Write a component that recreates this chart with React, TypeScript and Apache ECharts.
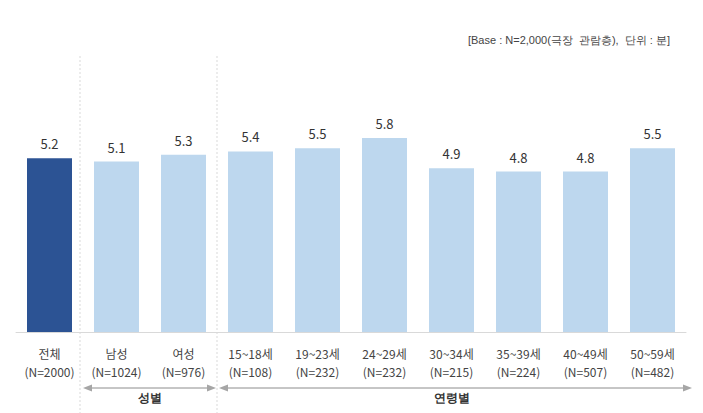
import React, { useEffect, useRef } from "react";
import * as echarts from "echarts";

const categories = ["전체", "남성", "여성", "15~18세", "19~23세", "24~29세", "30~34세", "35~39세", "40~49세", "50~59세"];
const sampleSizes = ["N=2000", "N=1024", "N=976", "N=108", "N=232", "N=232", "N=215", "N=224", "N=507", "N=482"];
const values = [5.2, 5.1, 5.3, 5.4, 5.5, 5.8, 4.9, 4.8, 4.8, 5.5];
const groupLabels = ["성별", "연령별"];
const groupRanges = [[1, 2], [3, 9]];
const noteText = "[Base : N=2,000(극장  관람층),  단위 : 분]";

const FONT = "'Noto Sans CJK KR', 'Noto Sans', sans-serif";

export default function App() {
  const ref = useRef<HTMLDivElement>(null);
  useEffect(() => {
    if (!ref.current) return;
    const chart = echarts.init(ref.current, null, { renderer: "svg" });
    chart.setOption({
      animation: false,
      backgroundColor: "#ffffff",
      grid: { left: 16, right: 17, top: 98, bottom: 81 },
      xAxis: {
        type: "category",
        data: categories,
        axisLine: { show: true, lineStyle: { color: "#d9d9d9", width: 1 } },
        axisTick: { show: false },
        axisLabel: {
          interval: 0,
          margin: 12,
          lineHeight: 18,
          fontSize: 12,
          color: "#444",
          fontFamily: FONT,
          formatter: (v: string, i: number) => `${v}\n(${sampleSizes[i]})`,
        },
      },
      yAxis: { type: "value", min: 0, max: 7, show: false, splitLine: { show: false } },
      series: [
        {
          type: "bar",
          barWidth: 45,
          data: values.map((v, i) => ({
            value: v,
            itemStyle: { color: i === 0 ? "#2c5394" : "#bdd7ee" },
          })),
          label: {
            show: true,
            position: "top",
            distance: 8,
            fontSize: 13,
            color: "#333",
            fontFamily: FONT,
            formatter: (p: any) => p.value.toFixed(1),
          },
        },
      ],
    });

    const px = (i: number) => chart.convertToPixel({ xAxisIndex: 0 }, i) as number;
    const step = px(1) - px(0);
    const sep1 = px(0) + step / 2 - 3;
    const sep2 = px(2) + step / 2;
    const arrowY = 388;
    const arrowColor = "#8c8c8c";
    const headColor = "#a6a6a6";
    const arrow = (x1: number, x2: number) => [
      { type: "line", shape: { x1: x1 + 6, y1: arrowY, x2: x2 - 6, y2: arrowY }, style: { stroke: arrowColor, lineWidth: 1 } },
      { type: "polygon", shape: { points: [[x1, arrowY], [x1 + 9, arrowY - 3.5], [x1 + 9, arrowY + 3.5]] }, style: { fill: headColor } },
      { type: "polygon", shape: { points: [[x2, arrowY], [x2 - 9, arrowY - 3.5], [x2 - 9, arrowY + 3.5]] }, style: { fill: headColor } },
    ];
    const g1Start = sep1 + 3;
    const g1End = sep2 - 1;
    const g2Start = sep2 + 2;
    const g2End = 692;
    chart.setOption({
      graphic: [
        { type: "line", shape: { x1: sep1, y1: 56, x2: sep1, y2: 413 }, style: { stroke: "#d9d9d9", lineWidth: 1, lineDash: [2, 2] } },
        { type: "line", shape: { x1: sep2, y1: 56, x2: sep2, y2: 413 }, style: { stroke: "#d9d9d9", lineWidth: 1, lineDash: [2, 2] } },
        ...arrow(g1Start, g1End),
        ...arrow(g2Start, g2End),
        {
          type: "text",
          x: (px(groupRanges[0][0]) + px(groupRanges[0][1])) / 2,
          y: 398,
          style: { text: groupLabels[0], fontSize: 12, fontWeight: "bold", fill: "#333", font: `bold 12px ${FONT}`, textAlign: "center", textVerticalAlign: "middle" },
        },
        {
          type: "text",
          x: (px(groupRanges[1][0]) + px(groupRanges[1][1])) / 2,
          y: 398,
          style: { text: groupLabels[1], fontSize: 12, fontWeight: "bold", fill: "#333", font: `bold 12px ${FONT}`, textAlign: "center", textVerticalAlign: "middle" },
        },
        {
          type: "text",
          right: 33,
          top: 34,
          style: { text: noteText, fontSize: 11, fill: "#444", font: `11px ${FONT}` },
        },
      ],
    });
    return () => chart.dispose();
  }, []);
  return <div ref={ref} style={{ width: 703, height: 413, position: "absolute", left: 0, top: 0 }} />;
}
